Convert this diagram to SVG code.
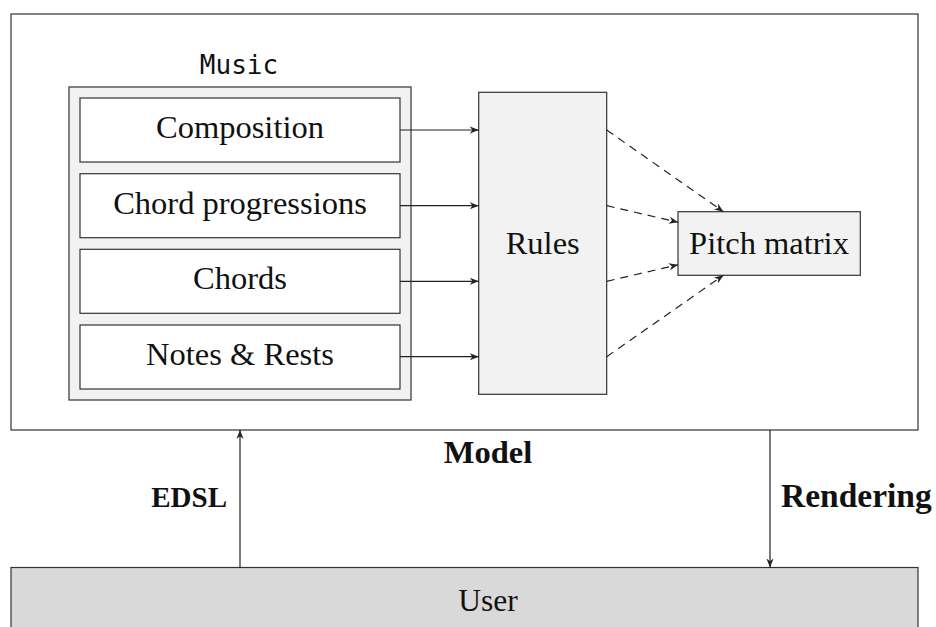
<svg xmlns="http://www.w3.org/2000/svg" width="936" height="627" viewBox="0 0 936 627">
  <style>
    .box { stroke: #333; stroke-width: 1.2; }
    .white { fill: #ffffff; }
    .light { fill: #f2f2f2; }
    .dark { fill: #d9d9d9; }
    .lbl { font-family: "Liberation Serif", "Times New Roman", serif; font-size: 32.5px; fill: #111; text-anchor: middle; }
    .bold { font-family: "Liberation Serif", "Times New Roman", serif; font-size: 32.5px; font-weight: bold; fill: #111; }
    .mono { font-family: "DejaVu Sans Mono", "Liberation Mono", monospace; font-size: 26px; fill: #111; text-anchor: middle; }
    .conn { stroke: #222; stroke-width: 1.2; fill: none; }
    .dash { stroke-dasharray: 8 6; }
  </style>
  <defs>
    <marker id="arrow" viewBox="0 0 10 8" refX="10" refY="4" markerWidth="9" markerHeight="7.2" orient="auto" markerUnits="userSpaceOnUse">
      <path d="M0,0 L10,4 L0,8 L3,4 z" fill="#222"/>
    </marker>
  </defs>

  <g id="model">
    <rect class="box white" x="11" y="14" width="907" height="416"/>
    <text class="bold" x="488" y="463" text-anchor="middle">Model</text>
  </g>

  <g id="music">
    <text class="mono" x="239" y="74">Music</text>
    <rect class="box light" x="69" y="87" width="342" height="313"/>
  </g>

  <g id="composition">
    <rect class="box white" x="80" y="98" width="320" height="64"/>
    <text class="lbl" x="240" y="138">Composition</text>
  </g>
  <g id="chord-progressions">
    <rect class="box white" x="80" y="173.7" width="320" height="64"/>
    <text class="lbl" x="240" y="213.7">Chord progressions</text>
  </g>
  <g id="chords">
    <rect class="box white" x="80" y="249.3" width="320" height="64"/>
    <text class="lbl" x="240" y="289.3">Chords</text>
  </g>
  <g id="notes-rests">
    <rect class="box white" x="80" y="325" width="320" height="64"/>
    <text class="lbl" x="240" y="365">Notes &amp; Rests</text>
  </g>

  <g id="rules">
    <rect class="box light" x="478.7" y="92.3" width="128" height="302"/>
    <text class="lbl" x="542.7" y="254">Rules</text>
  </g>

  <g id="pitch-matrix">
    <rect class="box light" x="678" y="211.7" width="182.3" height="63.6"/>
    <text class="lbl" x="769" y="254">Pitch matrix</text>
  </g>

  <g id="user">
    <rect class="box dark" x="11" y="567.5" width="907" height="70"/>
    <text class="lbl" x="488" y="611" style="font-size:31.5px">User</text>
  </g>

  <g id="connectors">
    <line class="conn" x1="400" y1="130" x2="478.7" y2="130" marker-end="url(#arrow)"/>
    <line class="conn" x1="400" y1="205.7" x2="478.7" y2="205.7" marker-end="url(#arrow)"/>
    <line class="conn" x1="400" y1="281.3" x2="478.7" y2="281.3" marker-end="url(#arrow)"/>
    <line class="conn" x1="400" y1="356.7" x2="478.7" y2="356.7" marker-end="url(#arrow)"/>

    <line class="conn dash" x1="606.7" y1="130" x2="723.4" y2="211.7" marker-end="url(#arrow)"/>
    <line class="conn dash" x1="606.7" y1="205.7" x2="678" y2="222.2" marker-end="url(#arrow)"/>
    <line class="conn dash" x1="606.7" y1="281.3" x2="678" y2="264.8" marker-end="url(#arrow)"/>
    <line class="conn dash" x1="606.7" y1="356.7" x2="723.4" y2="275.3" marker-end="url(#arrow)"/>

    <line class="conn" x1="240" y1="567.5" x2="240" y2="430" marker-end="url(#arrow)"/>
    <line class="conn" x1="770" y1="430" x2="770" y2="567.5" marker-end="url(#arrow)"/>
    <text class="bold" x="227" y="507" text-anchor="end" style="font-size:29px">EDSL</text>
    <text class="bold" x="781" y="507" style="font-size:33.5px">Rendering</text>
  </g>
</svg>
